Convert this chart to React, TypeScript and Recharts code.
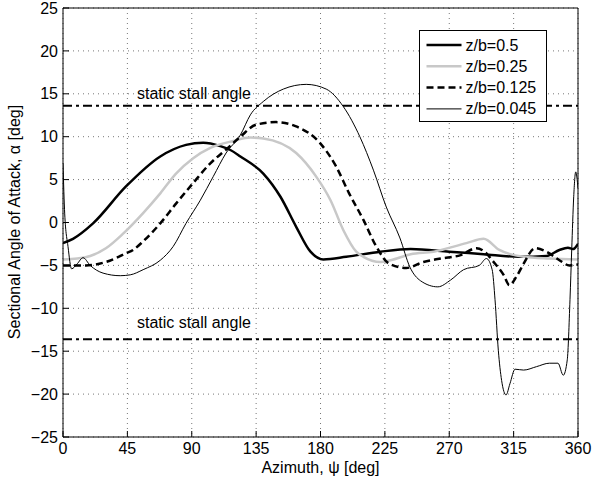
import React from "react";
import { LineChart, Line, XAxis, YAxis, CartesianGrid, ReferenceLine, Legend } from "recharts";

const FONT = '"Liberation Sans", Arial, Helvetica, sans-serif';

// azimuth [deg] and sectional AoA [deg], one pair of arrays per station
const psiHalf = [0, 7, 21, 44, 68, 86, 98, 110, 117, 124, 140, 152, 163, 173, 182, 198, 222, 243, 270, 294, 319, 338, 347, 353, 356.5, 360];
const alphaHalf = [-2.4, -1.9, -0.1, 4.2, 7.7, 9.05, 9.3, 8.9, 8.45, 7.7, 5.7, 3.0, -0.5, -3.4, -4.3, -4.0, -3.4, -3.1, -3.4, -3.7, -4.0, -3.9, -3.2, -2.95, -3.1, -2.5];

const psiQuarter = [0, 10, 19, 30, 42, 56, 68, 79, 91, 103, 119, 131, 140, 163, 177, 187, 196, 205, 210, 222, 229, 243, 259, 282, 294, 305, 322, 340, 360];
const alphaQuarter = [-4.3, -4.2, -3.9, -3.0, -1.3, 1.1, 3.4, 5.7, 7.5, 8.7, 9.5, 9.9, 9.8, 8.1, 5.35, 2.6, -0.9, -3.4, -4.0, -4.6, -4.4, -3.7, -3.4, -2.4, -1.9, -3.2, -4.0, -4.2, -4.3];

const psiEighth = [0, 16, 30, 44, 49, 56, 68, 79, 91, 103, 114, 124, 135, 149, 163, 180, 191, 200, 210, 219, 228, 240, 252, 264, 278, 289, 296, 300, 308, 312, 317, 322, 330, 338, 347, 354, 360];
const alphaEighth = [-5.0, -5.0, -4.6, -3.6, -3.2, -2.2, -0.1, 2.2, 4.6, 6.9, 8.5, 10.0, 11.4, 11.7, 11.2, 9.2, 6.5, 3.4, 0.3, -2.8, -4.8, -5.3, -4.6, -4.2, -3.8, -3.0, -3.6, -4.4, -6.1, -7.3, -6.3, -4.8, -3.0, -3.4, -4.4, -5.0, -4.9];

const psiTip = [0, 1.2, 3.5, 6, 10, 14, 19, 28, 40, 47, 56, 68, 77, 86, 96, 105, 114, 124, 131, 140, 154, 170, 184, 196, 207.5, 217, 226, 235.5, 242.5, 250, 262, 271, 280, 291, 296, 300, 302, 304.3, 306.6, 309.7, 312.4, 316, 322, 331, 340, 346, 349.7, 352.5, 354.4, 355.6, 357, 358.4, 360];
const alphaTip = [6.9, 1.0, -2.8, -5.4, -4.8, -4.1, -5.0, -5.9, -6.2, -6.1, -5.5, -4.4, -2.8, -0.1, 2.6, 5.35, 8.1, 10.2, 12.55, 14.1, 15.55, 16.1, 15.55, 13.5, 10.0, 6.1, 1.8, -1.8, -5.2, -6.8, -7.5, -6.7, -5.5, -5.0, -4.2, -5.5, -9.0, -14.9, -18.4, -20.1, -18.8, -17.1, -17.2, -16.8, -16.4, -16.4, -17.8, -16.0, -9.0, -3.2, 3.0, 5.9, 4.0];

const seriesNames = ["z/b=0.5", "z/b=0.25", "z/b=0.125", "z/b=0.045"];
const xTicks = [0, 45, 90, 135, 180, 225, 270, 315, 360];
const yTicks = [-25, -20, -15, -10, -5, 0, 5, 10, 15, 20, 25];
const stallAngle = 13.6;

const zip = (xs: number[], ys: number[]) => xs.map((psi, i) => ({ psi, alpha: ys[i] }));

const styles = [
  { stroke: "#000", strokeWidth: 2.5, dash: undefined as string | undefined },
  { stroke: "#c8c8c8", strokeWidth: 2.5, dash: undefined },
  { stroke: "#000", strokeWidth: 2.5, dash: "7 4" },
  { stroke: "#000", strokeWidth: 1, dash: undefined },
];
const series = [zip(psiHalf, alphaHalf), zip(psiQuarter, alphaQuarter), zip(psiEighth, alphaEighth), zip(psiTip, alphaTip)];

const FS = 16;
const tickStyle = { fontSize: FS, fontFamily: FONT, fill: "#000" };

const StallLabel = (props: any) => {
  const { viewBox, lift } = props;
  return (
    <text x={viewBox.x + 74} y={viewBox.y - lift} fontSize={FS} fontFamily={FONT} fill="#000">
      static stall angle
    </text>
  );
};

const YTitle = () => (
  <text x={20} y={222} transform="rotate(-90, 20, 222)" textAnchor="middle" fontSize={FS} fontFamily={FONT} fill="#000">
    Sectional Angle of Attack, α [deg]
  </text>
);

const XTitle = () => (
  <text x={320.5} y={473} textAnchor="middle" fontSize={FS} fontFamily={FONT} fill="#000">
    Azimuth, ψ [deg]
  </text>
);

const LegendBox = () => (
  <svg width={128} height={92} style={{ display: "block" }}>
    <rect x={0.5} y={0.5} width={127} height={91} fill="#fff" stroke="#000" strokeWidth={1} />
    {seriesNames.map((name, i) => {
      const cy = 15 + i * 21.3;
      const s = styles[i];
      return (
        <g key={name}>
          <line x1={7.5} x2={42.5} y1={cy} y2={cy} stroke={s.stroke} strokeWidth={s.strokeWidth} strokeDasharray={s.dash} />
          <text x={46.5} y={cy + 5.5} fontSize={FS} fontFamily={FONT} fill="#000">
            {name}
          </text>
        </g>
      );
    })}
  </svg>
);

export default function App() {
  return (
    <div style={{ position: "absolute", top: 0, left: 0, width: 592, height: 484, background: "#fff" }}>
      <LineChart width={592} height={484} margin={{ top: 7, right: 13, bottom: 17, left: 18 }}>
        <CartesianGrid stroke="#777" strokeDasharray="1 4" />
        <XAxis
          type="number"
          dataKey="psi"
          domain={[0, 360]}
          ticks={xTicks}
          interval={0}
          height={30}
          tickSize={-6}
          tickMargin={12}
          tick={tickStyle}
          axisLine={{ stroke: "#000", strokeWidth: 1 }}
          tickLine={{ stroke: "#000" }}
          allowDataOverflow
          label={<XTitle />}
        />
        <XAxis
          xAxisId="top"
          orientation="top"
          type="number"
          dataKey="psi"
          domain={[0, 360]}
          ticks={xTicks}
          interval={0}
          height={1}
          tickSize={-6}
          tick={false}
          axisLine={{ stroke: "#000", strokeWidth: 1 }}
          tickLine={{ stroke: "#000" }}
        />
        <YAxis
          type="number"
          domain={[-25, 25]}
          ticks={yTicks}
          interval={0}
          width={45}
          tickSize={-6}
          tickMargin={11}
          tick={tickStyle}
          tickFormatter={(v: number) => (v < 0 ? `\u2212${-v}` : `${v}`)}
          axisLine={{ stroke: "#000", strokeWidth: 1 }}
          tickLine={{ stroke: "#000" }}
          allowDataOverflow
          label={<YTitle />}
        />
        <YAxis
          yAxisId="right"
          orientation="right"
          type="number"
          domain={[-25, 25]}
          ticks={yTicks}
          interval={0}
          width={1}
          tickSize={-6}
          tick={false}
          axisLine={{ stroke: "#000", strokeWidth: 1 }}
          tickLine={{ stroke: "#000" }}
        />
        <ReferenceLine y={stallAngle} stroke="#000" strokeWidth={2} strokeDasharray="9 4 3 4" label={<StallLabel lift={6.5} />} />
        <ReferenceLine y={-stallAngle} stroke="#000" strokeWidth={2} strokeDasharray="9 4 3 4" label={<StallLabel lift={11.6} />} />
        {series.map((data, i) => (
          <Line
            key={seriesNames[i]}
            name={seriesNames[i]}
            data={data}
            dataKey="alpha"
            type="monotone"
            stroke={styles[i].stroke}
            strokeWidth={styles[i].strokeWidth}
            strokeDasharray={styles[i].dash}
            dot={false}
            activeDot={false}
            isAnimationActive={false}
          />
        ))}
        <Legend
          layout="vertical"
          align="center"
          verticalAlign="middle"
          content={<LegendBox />}
          wrapperStyle={{ position: "absolute", top: 30, left: 419, width: 128, height: 92 }}
        />
      </LineChart>
    </div>
  );
}
